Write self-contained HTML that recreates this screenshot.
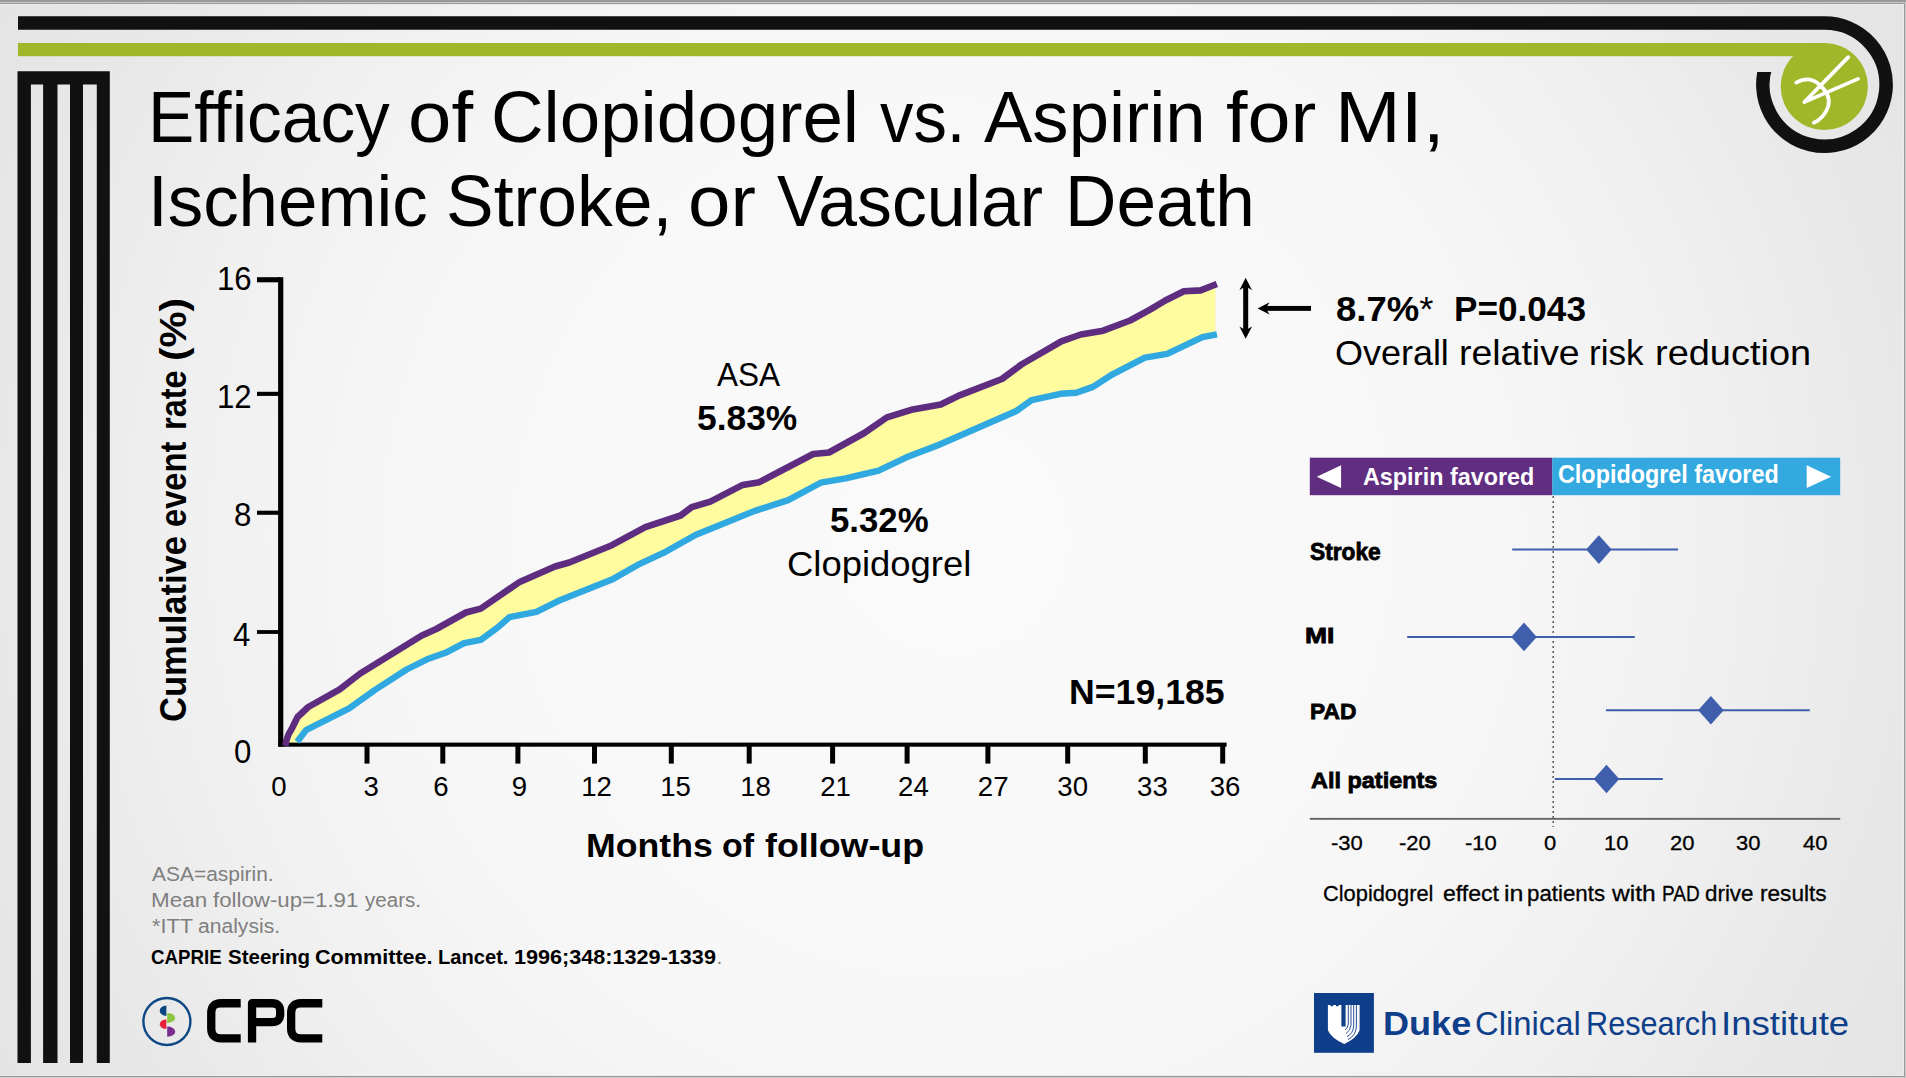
<!DOCTYPE html>
<html lang="en"><head><meta charset="utf-8"><title>Efficacy of Clopidogrel vs. Aspirin</title>
<style>
html,body{margin:0;padding:0;}
body{width:1906px;height:1078px;overflow:hidden;position:relative;font-family:"Liberation Sans", sans-serif;background:#e6e6e6;}
#slide{position:absolute;left:0;top:0;width:1906px;height:1078px;overflow:hidden;}
#bg{position:absolute;left:0;top:0;width:1906px;height:1078px;background:radial-gradient(circle 1095px at 50% 50%, #fafafa 0%, #f8f8f8 38%, #f6f6f6 52%, #f0f0f0 70%, #ececec 78%, #e8e8e8 87%, #e4e4e4 100%);}
.t{position:absolute;white-space:pre;line-height:1;transform-origin:0 0;margin:0;padding:0;}
svg{position:absolute;left:0;top:0;}
</style></head><body><div id="slide">
<div id="bg"></div>
<svg width="1906" height="1078" viewBox="0 0 1906 1078">
<rect x="0" y="0" width="1906" height="2" fill="#999"/><rect x="0" y="2" width="1906" height="1" fill="#c8c8c8"/><rect x="0" y="3" width="1906" height="1" fill="#9c9c9c"/><rect x="0" y="4" width="1904" height="1" fill="#e9e9e9"/>
<rect x="0" y="1075" width="1904" height="1" fill="#ececec"/><rect x="0" y="1076" width="1906" height="1" fill="#999"/><rect x="0" y="1077" width="1906" height="1" fill="#ccc"/>
<rect x="1903" y="4" width="1" height="1072" fill="#ececec"/><rect x="1904" y="3" width="1" height="1074" fill="#999"/><rect x="1905" y="3" width="1" height="1075" fill="#ccc"/>
<defs><clipPath id="ringclip"><rect x="0" y="0" width="1906" height="31"/><rect x="1800" y="0" width="106" height="200"/><rect x="1700" y="71.9" width="110" height="130"/></clipPath></defs>
<path d="M18 23.05 H1824.5 A61.6 61.6 0 1 1 1766.6 63.6" fill="none" stroke="#111" stroke-width="13.6" clip-path="url(#ringclip)"/>
<rect x="18" y="43" width="1807" height="13.2" fill="#9fb728"/><circle cx="1824.3" cy="86.5" r="43.6" fill="#9fb728"/>
<g fill="none" stroke="#fff" stroke-width="3.7" stroke-linecap="round" stroke-linejoin="round"><path d="M1848.3 57.1 L1804.3 102.1 L1858 78.9"/><path d="M1796.2 82.6 C1804 78.3 1812 78.5 1818 83.5 C1826 90 1830.5 98 1828.3 106 C1826.3 113.5 1820 120 1813.8 122.8"/></g>
<path fill="#111" d="M17.5 71.3 H109.8 V1063 H96.8 V84.6 H83 V1063 H70 V84.6 H57.5 V1063 H43.1 V84.6 H30.9 V1063 H17.5 Z"/>
<polygon fill="#fffb9f" points="285.4,745.8 286.2,741.0 288.5,734.5 292.5,727.3 297.6,717.0 308.3,707.0 339.7,689.3 360.2,673.5 421.4,635.7 436.3,629.0 465.9,612.5 480.8,608.6 519.7,581.9 555.0,566.5 569.3,562.5 611.9,545.2 645.3,527.2 680.6,515.5 691.7,507.2 710.3,501.6 742.7,484.9 759.4,482.2 813.2,454.0 829.0,452.5 864.3,433.0 886.9,417.4 912.9,409.4 940.7,404.4 960.2,395.1 1001.9,379.0 1021.4,364.5 1061.3,341.3 1080.8,334.5 1103.2,330.7 1130.1,320.5 1150.5,309.4 1165.3,300.5 1183.9,291.2 1200.6,290.4 1215.4,284.6 1215.4,334.7 1202.4,337.2 1167.2,353.9 1144.9,357.6 1112.5,374.3 1093.0,386.9 1076.1,392.7 1060.4,393.8 1031.6,400.1 1015.8,411.3 937.9,445.2 906.4,457.3 878.6,470.6 845.7,478.4 820.7,482.7 788.2,500.1 754.8,510.9 695.4,535.0 663.9,552.7 639.8,563.8 611.9,579.6 560.5,599.9 536.4,611.9 509.5,617.1 497.5,627.7 480.8,639.8 464.1,643.1 445.5,652.8 427.0,659.3 406.6,669.5 375.0,689.9 349.1,708.4 306.4,729.8 297.1,741.8"/>
<g fill="#000"><rect x="278.1" y="277.2" width="5.2" height="469.4"/><rect x="278.1" y="742.6" width="948.5" height="4.1"/>
<rect x="257" y="277.2" width="23" height="5.1"/>
<rect x="257" y="391.8" width="23" height="4.1"/>
<rect x="257" y="510.7" width="23" height="4.1"/>
<rect x="257" y="630.1" width="23" height="3.8"/>
<rect x="364.5" y="744" width="5" height="19.6"/>
<rect x="440.3" y="744" width="5" height="19.6"/>
<rect x="515.4" y="744" width="5" height="19.6"/>
<rect x="592.0" y="744" width="5" height="19.6"/>
<rect x="668.8" y="744" width="5" height="19.6"/>
<rect x="746.7" y="744" width="5" height="19.6"/>
<rect x="830.1" y="744" width="5" height="19.6"/>
<rect x="904.6" y="744" width="5" height="19.6"/>
<rect x="985.4" y="744" width="5" height="19.6"/>
<rect x="1065.2" y="744" width="5" height="19.6"/>
<rect x="1142.8" y="744" width="5" height="19.6"/>
<rect x="1220.2" y="744" width="5" height="19.6"/>
</g>
<polyline fill="none" stroke="#30a8e0" stroke-width="6.4" stroke-linejoin="round" points="297.1,741.8 306.4,729.8 349.1,708.4 375.0,689.9 406.6,669.5 427.0,659.3 445.5,652.8 464.1,643.1 480.8,639.8 497.5,627.7 509.5,617.1 536.4,611.9 560.5,599.9 611.9,579.6 639.8,563.8 663.9,552.7 695.4,535.0 754.8,510.9 788.2,500.1 820.7,482.7 845.7,478.4 878.6,470.6 906.4,457.3 937.9,445.2 1015.8,411.3 1031.6,400.1 1060.4,393.8 1076.1,392.7 1093.0,386.9 1112.5,374.3 1144.9,357.6 1167.2,353.9 1202.4,337.2 1216.9,334.4"/>
<polyline fill="none" stroke="#5f2d80" stroke-width="6.6" stroke-linejoin="round" points="285.4,745.8 286.2,741.0 288.5,734.5 292.5,727.3 297.6,717.0 308.3,707.0 339.7,689.3 360.2,673.5 421.4,635.7 436.3,629.0 465.9,612.5 480.8,608.6 519.7,581.9 555.0,566.5 569.3,562.5 611.9,545.2 645.3,527.2 680.6,515.5 691.7,507.2 710.3,501.6 742.7,484.9 759.4,482.2 813.2,454.0 829.0,452.5 864.3,433.0 886.9,417.4 912.9,409.4 940.7,404.4 960.2,395.1 1001.9,379.0 1021.4,364.5 1061.3,341.3 1080.8,334.5 1103.2,330.7 1130.1,320.5 1150.5,309.4 1165.3,300.5 1183.9,291.2 1200.6,290.4 1216.9,284.0"/>
<g fill="#000"><rect x="1243.2" y="284" width="5" height="48.7"/><path d="M1245.7 277.8 L1252 290.2 L1248.2 287.8 L1243.2 287.8 L1239.4 290.2 Z"/><path d="M1245.7 338.8 L1252 326.4 L1248.2 328.8 L1243.2 328.8 L1239.4 326.4 Z"/>
<rect x="1265" y="305.95" width="46" height="4.9"/><path d="M1257.6 308.4 L1269.6 302.3 L1267.2 305.95 L1267.2 310.85 L1269.6 314.5 Z"/></g>
<rect x="1309.8" y="457.7" width="242.6" height="37.5" fill="#602d80"/><rect x="1552.3" y="457.7" width="287.9" height="37.5" fill="#33a9e0"/>
<path fill="#fff" d="M1316.8 476.7 L1341.1 465.3 V488.1 Z M1831.1 476.7 L1806.7 465.3 V488.1 Z"/>
<line x1="1553.2" y1="496" x2="1553.2" y2="827" stroke="#5a5a5a" stroke-width="1.5" stroke-dasharray="2 3"/>
<rect x="1309.8" y="817.9" width="530.4" height="1.9" fill="#666"/>
<g stroke="#3f5fad" stroke-width="2" fill="#3f5fad">
<line x1="1512.2" y1="549.6" x2="1678.0" y2="549.6"/>
<path stroke="none" d="M1586.1 549.6 l12.8 -14.3 l12.8 14.3 l-12.8 14.3 Z"/>
<line x1="1407.2" y1="636.9" x2="1634.8" y2="636.9"/>
<path stroke="none" d="M1511.2 636.9 l12.8 -14.3 l12.8 14.3 l-12.8 14.3 Z"/>
<line x1="1605.9" y1="710.2" x2="1809.8" y2="710.2"/>
<path stroke="none" d="M1698.1 710.2 l12.8 -14.3 l12.8 14.3 l-12.8 14.3 Z"/>
<line x1="1554.8" y1="779.0" x2="1662.8" y2="779.0"/>
<path stroke="none" d="M1593.7 779.0 l12.8 -14.3 l12.8 14.3 l-12.8 14.3 Z"/>
</g>
<circle cx="166.9" cy="1021.5" r="23.5" fill="none" stroke="#0e4884" stroke-width="2.4"/>
<path fill="#0b4580" d="M166.4 1005.4 V1015.9 A6.7 5.25 0 0 1 166.4 1005.4 Z"/>
<path fill="#e8203a" d="M166.4 1019.4 V1029.1 A6.6 4.85 0 0 1 166.4 1019.4 Z"/>
<path fill="#8cc63f" d="M167.2 1013.1 V1023 A8 4.95 0 0 0 167.2 1013.1 Z"/>
<path fill="#7b2d8e" d="M167.2 1026.6 V1036.8 A8 5.1 0 0 0 167.2 1026.6 Z"/>
<g fill="none" stroke="#000" stroke-width="8.3" stroke-linejoin="round">
<path d="M240.7 1003.25 H221 Q211.25 1003.25 211.25 1013 V1028.6 Q211.25 1038.35 221 1038.35 H240.7"/>
<path d="M252.05 1042.5 V1003.25 H272 Q280.15 1003.25 280.15 1011 V1014.5 Q280.15 1022.2 272 1022.2 H252.05"/>
<path d="M322.3 1003.25 H301 Q291.15 1003.25 291.15 1013 V1028.6 Q291.15 1038.35 301 1038.35 H322.3"/>
</g>
<rect x="1314" y="993" width="59.9" height="59.8" fill="#0f3f8a"/>
<path fill="#fff" d="M1327.9 1005 h2.6 v1.2 h2.6 v-1.2 h2.9 v1.2 h2.6 v-1.2 h2.8 V1026.6 h4.2 V1005 H1359.6 V1030.3 Q1357 1038 1344.2 1044 Q1331 1038 1327.9 1030.3 Z"/>
<g fill="none" stroke="#0f3f8a" stroke-width="0.9"><path d="M1348.3 1005 V1024 Q1348 1028 1345 1030"/><path d="M1351 1005 V1025 Q1350.5 1031 1346 1033.5"/><path d="M1353.7 1005 V1026 Q1353 1034 1347 1036.5"/><path d="M1356.4 1005 V1027 Q1355.5 1036 1348 1039.5"/></g>
</svg>
<div class="t" id="t0" style="left:147.57px;top:81.00px;font-size:72.97px;font-weight:400;color:#000;transform:scaleX(0.9516);">Efficacy</div>
<div class="t" id="t1" style="left:407.96px;top:81.00px;font-size:72.97px;font-weight:400;color:#000;transform:scaleX(1.0694);">of</div>
<div class="t" id="t2" style="left:490.59px;top:81.00px;font-size:72.97px;font-weight:400;color:#000;transform:scaleX(0.9970);">Clopidogrel</div>
<div class="t" id="t3" style="left:880.10px;top:81.00px;font-size:72.97px;font-weight:400;color:#000;transform:scaleX(0.9152);">vs.</div>
<div class="t" id="t4" style="left:983.80px;top:81.00px;font-size:72.97px;font-weight:400;color:#000;transform:scaleX(0.9939);">Aspirin</div>
<div class="t" id="t5" style="left:1225.98px;top:81.00px;font-size:72.97px;font-weight:400;color:#000;transform:scaleX(1.0608);">for</div>
<div class="t" id="t6" style="left:1335.34px;top:81.00px;font-size:72.97px;font-weight:400;color:#000;transform:scaleX(1.0813);">MI,</div>
<div class="t" id="t7" style="left:148.46px;top:165.41px;font-size:72.97px;font-weight:400;color:#000;transform:scaleX(0.9714);">Ischemic</div>
<div class="t" id="t8" style="left:445.76px;top:165.41px;font-size:72.97px;font-weight:400;color:#000;transform:scaleX(0.9789);">Stroke,</div>
<div class="t" id="t9" style="left:688.21px;top:165.41px;font-size:72.97px;font-weight:400;color:#000;transform:scaleX(1.0446);">or</div>
<div class="t" id="t10" style="left:777.20px;top:165.41px;font-size:72.97px;font-weight:400;color:#000;transform:scaleX(0.9554);">Vascular</div>
<div class="t" id="t11" style="left:1064.94px;top:165.41px;font-size:72.97px;font-weight:400;color:#000;transform:scaleX(0.9756);">Death</div>
<div class="t" id="t12" style="left:1335.95px;top:291.50px;font-size:34.88px;font-weight:700;color:#000;transform:scaleX(1.0463);">8.7%<span style="font-weight:400">*</span></div>
<div class="t" id="t13" style="left:1453.90px;top:291.50px;font-size:34.88px;font-weight:700;color:#000;transform:scaleX(1.0080);">P=0.043</div>
<div class="t" id="t14" style="left:1335.21px;top:335.60px;font-size:34.16px;font-weight:400;color:#000;transform:scaleX(1.0524);">Overall</div>
<div class="t" id="t15" style="left:1458.66px;top:335.60px;font-size:34.16px;font-weight:400;color:#000;transform:scaleX(1.0958);">relative</div>
<div class="t" id="t16" style="left:1589.01px;top:335.60px;font-size:34.16px;font-weight:400;color:#000;transform:scaleX(1.0269);">risk</div>
<div class="t" id="t17" style="left:1655.32px;top:335.60px;font-size:34.16px;font-weight:400;color:#000;transform:scaleX(1.1110);">reduction</div>
<div class="t" id="t18" style="left:716.60px;top:357.31px;font-size:34.01px;font-weight:400;color:#000;transform:scaleX(0.9279);">ASA</div>
<div class="t" id="t19" style="left:696.74px;top:400.90px;font-size:34.30px;font-weight:700;color:#000;transform:scaleX(1.0308);">5.83%</div>
<div class="t" id="t20" style="left:829.55px;top:503.21px;font-size:34.30px;font-weight:700;color:#000;transform:scaleX(1.0141);">5.32%</div>
<div class="t" id="t21" style="left:786.79px;top:547.31px;font-size:34.88px;font-weight:400;color:#000;transform:scaleX(1.0445);">Clopidogrel</div>
<div class="t" id="t22" style="left:1069.37px;top:674.71px;font-size:34.74px;font-weight:700;color:#000;transform:scaleX(1.0270);">N=19,185</div>
<div class="t" id="t23" style="left:585.67px;top:827.51px;font-size:34.01px;font-weight:700;color:#000;transform:scaleX(1.0486);">Months</div>
<div class="t" id="t24" style="left:721.84px;top:827.51px;font-size:34.01px;font-weight:700;color:#000;transform:scaleX(0.9967);">of</div>
<div class="t" id="t25" style="left:764.84px;top:827.51px;font-size:34.01px;font-weight:700;color:#000;transform:scaleX(1.0531);">follow-up</div>
<div class="t" id="t26" style="left:216.55px;top:262.92px;font-size:32.85px;font-weight:400;color:#000;transform:scaleX(0.9500);">16</div>
<div class="t" id="t27" style="left:216.55px;top:380.81px;font-size:32.85px;font-weight:400;color:#000;transform:scaleX(0.9500);">12</div>
<div class="t" id="t28" style="left:233.91px;top:498.72px;font-size:32.85px;font-weight:400;color:#000;transform:scaleX(0.9500);">8</div>
<div class="t" id="t29" style="left:233.42px;top:618.72px;font-size:32.85px;font-weight:400;color:#000;transform:scaleX(0.9500);">4</div>
<div class="t" id="t30" style="left:234.42px;top:736.01px;font-size:32.85px;font-weight:400;color:#000;transform:scaleX(0.9500);">0</div>
<div class="t" id="t31" style="left:271.13px;top:772.60px;font-size:27.62px;font-weight:400;color:#000;transform:scaleX(1.0000);">0</div>
<div class="t" id="t32" style="left:363.45px;top:772.60px;font-size:27.62px;font-weight:400;color:#000;transform:scaleX(1.0000);">3</div>
<div class="t" id="t33" style="left:433.23px;top:772.60px;font-size:27.62px;font-weight:400;color:#000;transform:scaleX(1.0000);">6</div>
<div class="t" id="t34" style="left:511.83px;top:772.60px;font-size:27.62px;font-weight:400;color:#000;transform:scaleX(1.0000);">9</div>
<div class="t" id="t35" style="left:581.14px;top:772.60px;font-size:27.62px;font-weight:400;color:#000;transform:scaleX(1.0000);">12</div>
<div class="t" id="t36" style="left:660.24px;top:772.60px;font-size:27.62px;font-weight:400;color:#000;transform:scaleX(1.0000);">15</div>
<div class="t" id="t37" style="left:740.24px;top:772.60px;font-size:27.62px;font-weight:400;color:#000;transform:scaleX(1.0000);">18</div>
<div class="t" id="t38" style="left:820.15px;top:772.60px;font-size:27.62px;font-weight:400;color:#000;transform:scaleX(1.0000);">21</div>
<div class="t" id="t39" style="left:898.04px;top:772.60px;font-size:27.62px;font-weight:400;color:#000;transform:scaleX(1.0000);">24</div>
<div class="t" id="t40" style="left:977.85px;top:772.60px;font-size:27.62px;font-weight:400;color:#000;transform:scaleX(1.0000);">27</div>
<div class="t" id="t41" style="left:1057.35px;top:772.60px;font-size:27.62px;font-weight:400;color:#000;transform:scaleX(1.0000);">30</div>
<div class="t" id="t42" style="left:1137.07px;top:772.60px;font-size:27.62px;font-weight:400;color:#000;transform:scaleX(1.0000);">33</div>
<div class="t" id="t43" style="left:1209.67px;top:772.60px;font-size:27.62px;font-weight:400;color:#000;transform:scaleX(1.0000);">36</div>
<div class="t" id="t44" style="left:152.30px;top:863.92px;font-size:20.35px;font-weight:400;color:#7f7f7f;transform:scaleX(1.0296);">ASA=aspirin.</div>
<div class="t" id="t45" style="left:150.95px;top:889.62px;font-size:20.35px;font-weight:400;color:#7f7f7f;transform:scaleX(1.1025);">Mean</div>
<div class="t" id="t46" style="left:213.40px;top:889.62px;font-size:20.35px;font-weight:400;color:#7f7f7f;transform:scaleX(1.0939);">follow-up=1.91</div>
<div class="t" id="t47" style="left:365.20px;top:889.62px;font-size:20.35px;font-weight:400;color:#7f7f7f;transform:scaleX(1.0099);">years.</div>
<div class="t" id="t48" style="left:152.33px;top:915.62px;font-size:20.35px;font-weight:400;color:#7f7f7f;transform:scaleX(1.0678);">*ITT</div>
<div class="t" id="t49" style="left:198.24px;top:915.62px;font-size:20.35px;font-weight:400;color:#7f7f7f;transform:scaleX(1.0366);">analysis.</div>
<div class="t" id="t50" style="left:150.71px;top:946.91px;font-size:20.93px;font-weight:700;color:#000;transform:scaleX(0.8938);">CAPRIE</div>
<div class="t" id="t51" style="left:228.37px;top:946.91px;font-size:20.93px;font-weight:700;color:#000;transform:scaleX(0.9797);">Steering</div>
<div class="t" id="t52" style="left:314.72px;top:946.91px;font-size:20.93px;font-weight:700;color:#000;transform:scaleX(1.0323);">Committee.</div>
<div class="t" id="t53" style="left:437.84px;top:946.91px;font-size:20.93px;font-weight:700;color:#000;transform:scaleX(0.9614);">Lancet.</div>
<div class="t" id="t54" style="left:513.65px;top:946.91px;font-size:20.93px;font-weight:700;color:#000;transform:scaleX(1.0331);">1996;348:1329-1339</div>
<div class="t" id="t55" style="left:716.52px;top:946.91px;font-size:20.93px;font-weight:400;color:#7f7f7f;transform:scaleX(1.0000);">.</div>
<div class="t" id="t56" style="left:1362.63px;top:465.01px;font-size:24.71px;font-weight:700;color:#fff;transform:scaleX(0.9449);">Aspirin favored</div>
<div class="t" id="t57" style="left:1558.17px;top:462.21px;font-size:25.15px;font-weight:700;color:#fff;transform:scaleX(0.9294);">Clopidogrel favored</div>
<div class="t" id="t58" style="left:1310.04px;top:540.71px;font-size:23.26px;font-weight:700;color:#000;transform:scaleX(0.9772);-webkit-text-stroke:0.8px #000;">Stroke</div>
<div class="t" id="t59" style="left:1304.70px;top:625.31px;font-size:21.22px;font-weight:700;color:#000;transform:scaleX(1.2468);-webkit-text-stroke:0.8px #000;">MI</div>
<div class="t" id="t60" style="left:1309.66px;top:700.30px;font-size:22.97px;font-weight:700;color:#000;transform:scaleX(0.9905);-webkit-text-stroke:0.8px #000;">PAD</div>
<div class="t" id="t61" style="left:1310.73px;top:768.80px;font-size:22.97px;font-weight:700;color:#000;transform:scaleX(1.0206);-webkit-text-stroke:0.8px #000;">All patients</div>
<div class="t" id="t62" style="left:1331.41px;top:833.20px;font-size:20.78px;font-weight:400;color:#000;transform:scaleX(1.0600);-webkit-text-stroke:0.3px #000;">-30</div>
<div class="t" id="t63" style="left:1398.61px;top:833.20px;font-size:20.78px;font-weight:400;color:#000;transform:scaleX(1.0600);-webkit-text-stroke:0.3px #000;">-20</div>
<div class="t" id="t64" style="left:1465.31px;top:833.20px;font-size:20.78px;font-weight:400;color:#000;transform:scaleX(1.0600);-webkit-text-stroke:0.3px #000;">-10</div>
<div class="t" id="t65" style="left:1544.10px;top:833.20px;font-size:20.78px;font-weight:400;color:#000;transform:scaleX(1.0600);-webkit-text-stroke:0.3px #000;">0</div>
<div class="t" id="t66" style="left:1603.93px;top:833.20px;font-size:20.78px;font-weight:400;color:#000;transform:scaleX(1.0600);-webkit-text-stroke:0.3px #000;">10</div>
<div class="t" id="t67" style="left:1669.50px;top:833.20px;font-size:20.78px;font-weight:400;color:#000;transform:scaleX(1.0600);-webkit-text-stroke:0.3px #000;">20</div>
<div class="t" id="t68" style="left:1735.68px;top:833.20px;font-size:20.78px;font-weight:400;color:#000;transform:scaleX(1.0600);-webkit-text-stroke:0.3px #000;">30</div>
<div class="t" id="t69" style="left:1802.85px;top:833.20px;font-size:20.78px;font-weight:400;color:#000;transform:scaleX(1.0600);-webkit-text-stroke:0.3px #000;">40</div>
<div class="t" id="t70" style="left:1323.18px;top:882.30px;font-size:22.67px;font-weight:400;color:#000;transform:scaleX(0.9631);-webkit-text-stroke:0.3px #000;">Clopidogrel</div>
<div class="t" id="t71" style="left:1442.58px;top:882.30px;font-size:22.67px;font-weight:400;color:#000;transform:scaleX(1.0183);-webkit-text-stroke:0.3px #000;">effect</div>
<div class="t" id="t72" style="left:1503.96px;top:882.30px;font-size:22.67px;font-weight:400;color:#000;transform:scaleX(1.1007);-webkit-text-stroke:0.3px #000;">in</div>
<div class="t" id="t73" style="left:1526.61px;top:882.30px;font-size:22.67px;font-weight:400;color:#000;transform:scaleX(0.9835);-webkit-text-stroke:0.3px #000;">patients</div>
<div class="t" id="t74" style="left:1612.19px;top:882.30px;font-size:22.67px;font-weight:400;color:#000;transform:scaleX(1.0864);-webkit-text-stroke:0.3px #000;">with</div>
<div class="t" id="t75" style="left:1661.90px;top:882.30px;font-size:22.67px;font-weight:400;color:#000;transform:scaleX(0.8381);-webkit-text-stroke:0.3px #000;">PAD</div>
<div class="t" id="t76" style="left:1705.19px;top:882.30px;font-size:22.67px;font-weight:400;color:#000;transform:scaleX(0.9871);-webkit-text-stroke:0.3px #000;">drive</div>
<div class="t" id="t77" style="left:1759.89px;top:882.30px;font-size:22.67px;font-weight:400;color:#000;transform:scaleX(0.9976);-webkit-text-stroke:0.3px #000;">results</div>
<div class="t" id="t78" style="left:1383.35px;top:1008.31px;font-size:32.85px;font-weight:700;color:#0f3f8a;transform:scaleX(1.0988);">Duke</div>
<div class="t" id="t79" style="left:1474.66px;top:1008.31px;font-size:32.85px;font-weight:400;color:#0f3f8a;transform:scaleX(0.9993);">Clinical</div>
<div class="t" id="t80" style="left:1585.70px;top:1008.31px;font-size:32.85px;font-weight:400;color:#0f3f8a;transform:scaleX(0.9341);">Research</div>
<div class="t" id="t81" style="left:1721.14px;top:1008.31px;font-size:32.85px;font-weight:400;color:#0f3f8a;transform:scaleX(1.1149);">Institute</div>
<div class="t" id="t82" style="left:154.60px;top:722.48px;font-size:37.79px;font-weight:700;color:#000;transform:rotate(-90deg) scaleX(0.9128);">Cumulative</div>
<div class="t" id="t83" style="left:154.60px;top:526.52px;font-size:37.79px;font-weight:700;color:#000;transform:rotate(-90deg) scaleX(0.8639);">event</div>
<div class="t" id="t84" style="left:154.60px;top:430.40px;font-size:37.79px;font-weight:700;color:#000;transform:rotate(-90deg) scaleX(0.8590);">rate</div>
<div class="t" id="t85" style="left:154.60px;top:361.08px;font-size:37.79px;font-weight:700;color:#000;transform:rotate(-90deg) scaleX(1.0713);">(%)</div>
</div></body></html>
